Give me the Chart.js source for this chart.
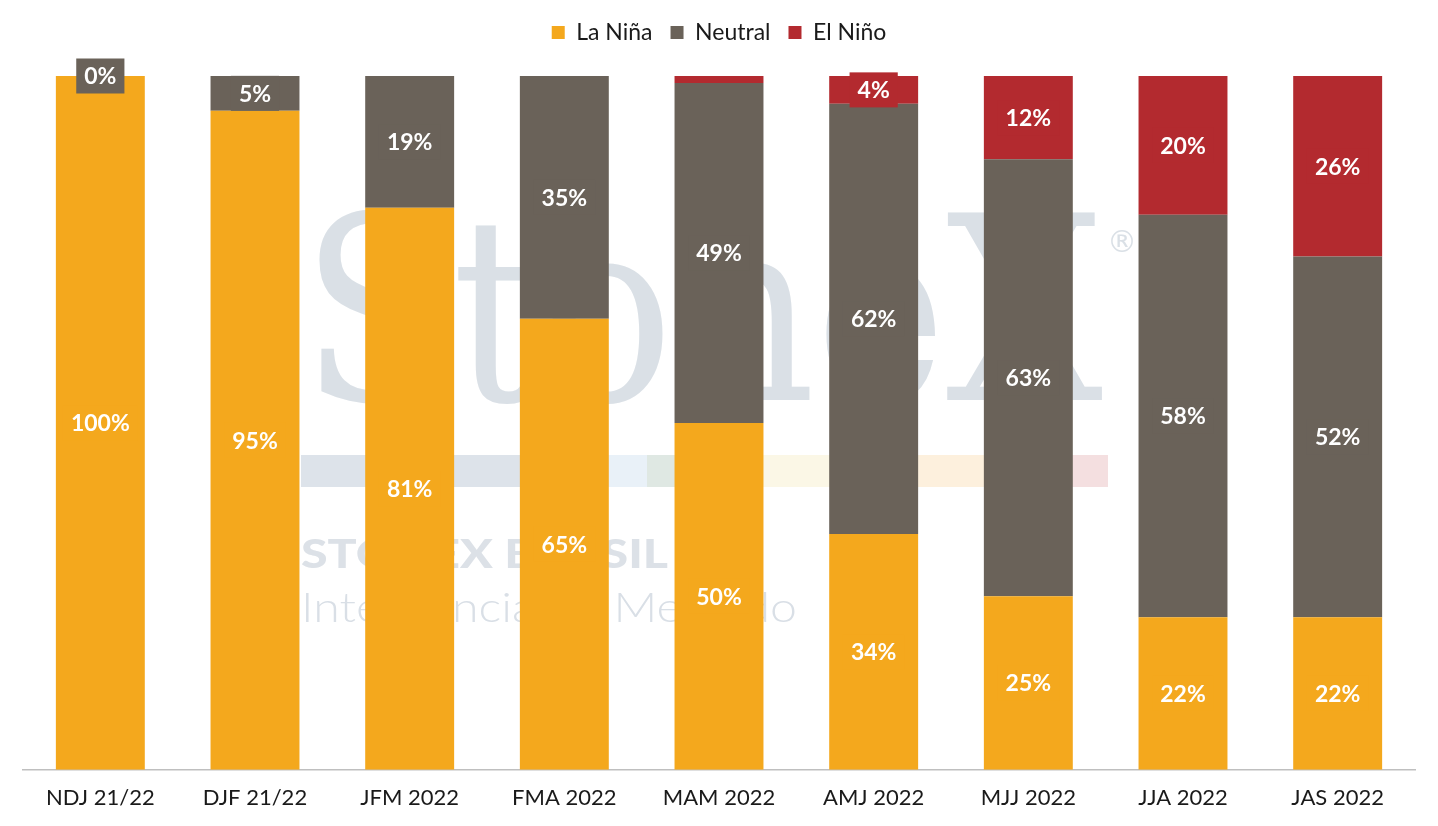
<!DOCTYPE html>
<html>
<head>
<meta charset="utf-8">
<script src="https://cdn.jsdelivr.net/npm/chart.js@4.4.0/dist/chart.umd.min.js"></script>
<style>
html,body{margin:0;padding:0;background:#fff;}
#wrap{width:1438px;height:826px;position:relative;}
</style>
</head>
<body>
<div id="wrap"><canvas id="c" width="1438" height="826"></canvas></div>
<script>
const categories = ['NDJ 21/22','DJF 21/22','JFM 2022','FMA 2022','MAM 2022','AMJ 2022','MJJ 2022','JJA 2022','JAS 2022'];
const laNina  = [100, 95, 81, 65, 50, 34, 25, 22, 22];
const neutral = [0, 5, 19, 35, 49, 62, 63, 58, 52];
const elNino  = [0, 0, 0, 0, 1, 4, 12, 20, 26];
const seriesNames = ['La Niña','Neutral','El Niño'];
const colors = ['#F4A81D','#6A6259','#B32A2F'];

const FONT = "Lato, 'Open Sans', sans-serif";

const watermark = {
  id: 'watermark',
  beforeDatasetsDraw(chart) {
    const ctx = chart.ctx;
    ctx.save();
    ctx.fillStyle = '#DAE0E6';
    ctx.textBaseline = 'alphabetic';
    ctx.font = "256px 'DejaVu Serif', serif";
    const w = ctx.measureText('StoneX').width;
    ctx.save();
    ctx.translate(301, 400);
    ctx.scale(802 / w, 1);
    ctx.fillText('StoneX', 0, 0);
    ctx.restore();
    ctx.font = "30px 'DejaVu Sans', sans-serif";
    ctx.textAlign = 'center';
    ctx.textBaseline = 'middle';
    ctx.fillText('®', 1122, 244);
    const segs = [[301,608,'#DDE3EA'],[608,647,'#E9F1F8'],[647,720,'#DFE8E3'],[720,880,'#FBF7E6'],[880,1030,'#FDF0DD'],[1030,1108,'#F4DFE0']];
    segs.forEach(s => { ctx.fillStyle = s[2]; ctx.fillRect(s[0], 455, s[1]-s[0], 32); });
    ctx.textAlign = 'left';
    ctx.textBaseline = 'alphabetic';
    ctx.fillStyle = '#DCE1E7';
    ctx.font = "900 39px " + FONT;
    let t = 'STONEX BRASIL';
    let tw = ctx.measureText(t).width;
    ctx.save(); ctx.translate(301, 568); ctx.scale(367 / tw, 1); ctx.fillText(t, 0, 0); ctx.restore();
    ctx.fillStyle = '#D9DFE6';
    ctx.font = "300 42px " + FONT;
    t = 'Inteligência de Mercado';
    tw = ctx.measureText(t).width;
    ctx.save(); ctx.translate(301, 622); ctx.scale(496 / tw, 1); ctx.fillText(t, 0, 0); ctx.restore();
    ctx.restore();
  }
};

const valueLabels = {
  id: 'valueLabels',
  afterDatasetsDraw(chart) {
    const ctx = chart.ctx;
    ctx.save();
    ctx.font = "bold 23px " + FONT;
    ctx.textAlign = 'center';
    ctx.textBaseline = 'middle';
    chart.data.datasets.forEach((ds, i) => {
      const meta = chart.getDatasetMeta(i);
      meta.data.forEach((el, j) => {
        const v = ds.data[j];
        if (i === 2 && v <= 1) return;
        const cy = (el.y + el.base) / 2;
        const txt = v + '%';
        const tw = ctx.measureText(txt).width;
        const bw = tw + 16, bh = 35;
        ctx.fillStyle = ds.backgroundColor;
        ctx.fillRect(el.x - bw/2, cy - bh/2, bw, bh);
        ctx.fillStyle = '#FFFFFF';
        ctx.fillText(txt, el.x, cy + 1);
      });
    });
    ctx.restore();
  }
};

const legendSpacer = {
  id: 'legendSpacer',
  beforeUpdate(chart) {
    const lg = chart.legend;
    if (lg && !lg._spaced) {
      const orig = lg.fit;
      lg.fit = function() { orig.call(this); this.height += 22; };
      lg._spaced = true;
    }
  }
};

const datasets = [laNina, neutral, elNino].map((d, i) => ({
  label: seriesNames[i],
  data: d,
  backgroundColor: colors[i],
  borderWidth: 0,
  barPercentage: 0.575,
  categoryPercentage: 1.0
}));

new Chart(document.getElementById('c'), {
  type: 'bar',
  data: { labels: categories, datasets },
  plugins: [watermark, valueLabels, legendSpacer],
  options: {
    responsive: false,
    animation: false,
    devicePixelRatio: 1,
    layout: { padding: { top: 3, left: 23, right: 23, bottom: 0 } },
    plugins: {
      tooltip: { enabled: false },
      legend: {
        position: 'top',
        labels: {
          boxWidth: 13, boxHeight: 13, padding: 18,
          color: '#1A1A1A',
          font: { family: FONT, size: 23 }
        }
      }
    },
    scales: {
      x: {
        stacked: true,
        offset: true,
        grid: { display: false, drawTicks: false },
        border: { display: true, color: '#BFBFBF', width: 1.5 },
        ticks: { color: '#1A1A1A', padding: 16, font: { family: FONT, size: 22, lineHeight: 1.1 }, maxRotation: 0 }
      },
      y: {
        stacked: true,
        display: false,
        min: 0, max: 100
      }
    }
  }
});
</script>
</body>
</html>
